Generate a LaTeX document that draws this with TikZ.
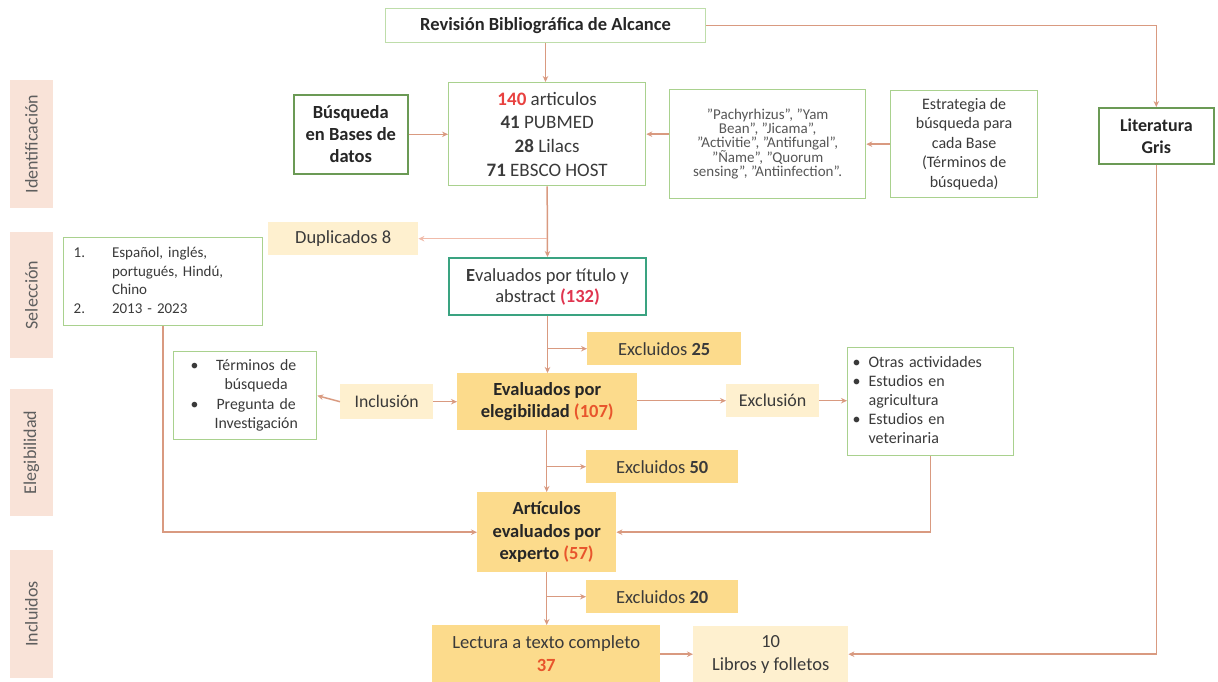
\documentclass[tikz,border=0pt]{standalone}
\usepackage{fontspec}
\setmainfont{Carlito}
\usetikzlibrary{arrows.meta}
\definecolor{arr}{HTML}{D99A80}
\definecolor{arrl}{HTML}{F0BBAA}
\definecolor{lgreen}{HTML}{A9D18E}
\definecolor{dgreen}{HTML}{6B9A55}
\definecolor{tealb}{HTML}{3AA381}
\definecolor{goldc}{HTML}{FCDB8C}
\definecolor{creamc}{HTML}{FEF0CF}
\definecolor{peach}{HTML}{F9E3D8}
\definecolor{redn}{HTML}{E8413F}
\definecolor{crim}{HTML}{E0354F}
\definecolor{orn}{HTML}{E8552C}
\definecolor{txt}{HTML}{3A3A3A}
\definecolor{sidetxt}{HTML}{5E5E5E}
\tikzset{
  base/.style={anchor=north west, align=center, inner sep=0pt, text=txt,
    font=\fontsize{18.5}{22}\selectfont},
  gbox/.style={base, draw=lgreen, line width=1.3pt, fill=white},
  dbox/.style={base, draw=dgreen, line width=1.6pt, fill=white,
    font=\bfseries\fontsize{18.5}{22}\selectfont, text=black!85},
  goldbox/.style={base, fill=goldc},
  creambox/.style={base, fill=creamc},
  sidebox/.style={fill=peach, rotate=90, inner sep=0pt, text=sidetxt,
    minimum height=43pt, font=\fontsize{18}{20}\selectfont},
  conn/.style={draw=arr, line width=1.5pt, -{Stealth[length=6pt,width=5.5pt]}},
}
\begin{document}
\begin{tikzpicture}[x=1pt,y=-1pt]
\useasboundingbox (0,0) rectangle (1218,682);

% phase labels
\node[sidebox, minimum width=128pt] (sid) at (31.5,144) {Identificación};
\node[sidebox, minimum width=126pt] (ssel) at (31.5,295) {Selección};
\node[sidebox, minimum width=127pt] (sele) at (31.5,452.5) {Elegibilidad};
\node[sidebox, minimum width=128pt] (sinc) at (31.5,614) {Incluidos};

% boxes
\node[base, draw=lgreen!75, line width=1pt, fill=white, minimum width=320pt, minimum height=34pt,
  font=\bfseries\fontsize{18.5}{22}\selectfont, text=black!85] (rev) at (385,8) {Revisión Bibliográfica de Alcance};

\node[gbox, minimum width=197pt, minimum height=103pt, font=\fontsize{19}{23.6}\selectfont] (a140) at (448,82)
  {{\color{redn}\bfseries 140} articulos\\ \textbf{41} PUBMED\\ \textbf{28} Lilacs\\ \textbf{71} EBSCO HOST};

\node[dbox, minimum width=114pt, minimum height=79pt] (busq) at (293,94) {Búsqueda\\en Bases de\\datos};

\node[gbox, minimum width=196pt, minimum height=109pt, font=\fontsize{15}{13.8}\selectfont, text=txt!85] (pach) at (669,89)
  {"Pachyrhizus", "Yam\\Bean", "Jicama",\\"Activitie", "Antifungal",\\"Ñame", "Quorum\\sensing", "Antiinfection".};

\node[gbox, minimum width=147pt, minimum height=107pt, font=\fontsize{16}{19.5}\selectfont] (estr) at (890,90)
  {Estrategia de\\búsqueda para\\cada Base\\(Términos de\\búsqueda)};

\node[dbox, minimum width=115pt, minimum height=56pt, font=\bfseries\fontsize{18}{22}\selectfont] (lit) at (1098,107) {Literatura\\Gris};

\node[creambox, minimum width=150pt, minimum height=33pt] (dup) at (268,222) {Duplicados 8};

\node[gbox, minimum width=199pt, minimum height=88pt, text width=179pt, inner xsep=10pt, align=left,
  font=\fontsize{15}{18.8}\selectfont] (sel) at (63,237)
  {\begin{tabular}{@{}l@{\hspace{27pt}}l@{}}1. & Español, inglés,\\ & portugués, Hindú,\\ & Chino\\ 2. & 2013 - 2023\end{tabular}};

\node[base, draw=tealb, line width=2pt, fill=white, minimum width=197pt, minimum height=57pt,
  font=\fontsize{18.5}{21}\selectfont] (evt) at (448,257)
  {\textbf{E}valuados por título y\\abstract {\color{crim}\bfseries(132)}};

\node[goldbox, minimum width=154pt, minimum height=33pt] (ex25) at (587,332) {Excluidos \textbf{25}};

\node[goldbox, minimum width=180pt, minimum height=57pt, font=\bfseries\fontsize{18.5}{22}\selectfont, text=black!85] (evel) at (457,373)
  {Evaluados por\\elegibilidad {\color{orn}(107)}};

\node[creambox, minimum width=93pt, minimum height=35pt, font=\fontsize{17.7}{21}\selectfont] (incl) at (340,384) {Inclusión};

\node[gbox, minimum width=143pt, minimum height=88pt, text width=129pt, inner xsep=7pt, align=left,
  font=\fontsize{15.8}{19.5}\selectfont] (term) at (173,351)
  {\hspace*{10pt}\begin{tabular}{@{}c@{\hspace{16pt}}c@{}}• & Términos de\\ & búsqueda\\ • & Pregunta de\\ & Investigación\end{tabular}};

\node[creambox, minimum width=93pt, minimum height=33pt, font=\fontsize{18}{21}\selectfont] (exclu) at (726,384) {Exclusión};

\node[gbox, minimum width=166pt, minimum height=108pt, text width=156pt, inner xsep=5pt, align=left,
  font=\fontsize{16}{19}\selectfont] (otras) at (847,347)
  {\begin{tabular}{@{}l@{\hspace{8pt}}l@{}}• & Otras actividades\\ • & Estudios en\\ & agricultura\\ • & Estudios en\\ & veterinaria\end{tabular}};

\node[goldbox, minimum width=152pt, minimum height=33pt] (ex50) at (586,450) {Excluidos \textbf{50}};

\node[goldbox, minimum width=139pt, minimum height=80pt, font=\bfseries\fontsize{18.5}{22.5}\selectfont, text=black!85] (artx) at (477,492)
  {Artículos\\evaluados por\\experto {\color{orn}(57)}};

\node[goldbox, minimum width=152pt, minimum height=33pt] (ex20) at (586,580) {Excluidos \textbf{20}};

\node[goldbox, minimum width=228pt, minimum height=57pt, font=\fontsize{18.6}{23}\selectfont] (lect) at (432,625)
  {Lectura a texto completo\\{\color{orn}\bfseries 37}};

\node[creambox, minimum width=155pt, minimum height=56pt, font=\fontsize{18.5}{23}\selectfont] (lib) at (693,626)
  {10\\Libros y folletos};

% connectors
\draw[conn] (rev.east) -| (lit.north);
\draw[conn] (rev.south) -- (rev.south |- a140.north);
\draw[conn] (busq.east) -- (busq.east -| a140.west);
\draw[conn] (a140.east -| pach.west) -- (a140.east);
\draw[conn] (estr.west) -- (estr.west -| pach.east);
\draw[conn] (a140.south) -- (evt.north);
\draw[conn, draw=arrl] (a140.south |- dup.east) -- (dup.east);
\draw[conn] (evt.south) -- (evt.south |- evel.north);
\draw[conn] (evt.south |- ex25.west) -- (ex25.west);
\draw[conn] (incl.west) -- (term.east);
\draw[conn] (incl.east) -- (incl.east -| evel.west);
\draw[conn] (evel.east |- exclu.west) -- (exclu.west);
\draw[conn] (exclu.east) -- (exclu.east -| otras.west);
\draw[conn] (evel.south -| artx.north) -- (artx.north);
\draw[conn] (evel.south |- ex50.west) -- (ex50.west);
\draw[conn] (sel.south) |- (artx.west);
\draw[conn] (otras.south) |- (artx.east);
\draw[conn] (artx.south) -- (artx.south |- lect.north);
\draw[conn] (artx.south |- ex20.west) -- (ex20.west);
\draw[conn] (lect.east |- lib.west) -- (lib.west);
\draw[conn] (lit.south) |- (lib.east);
\end{tikzpicture}
\end{document}
